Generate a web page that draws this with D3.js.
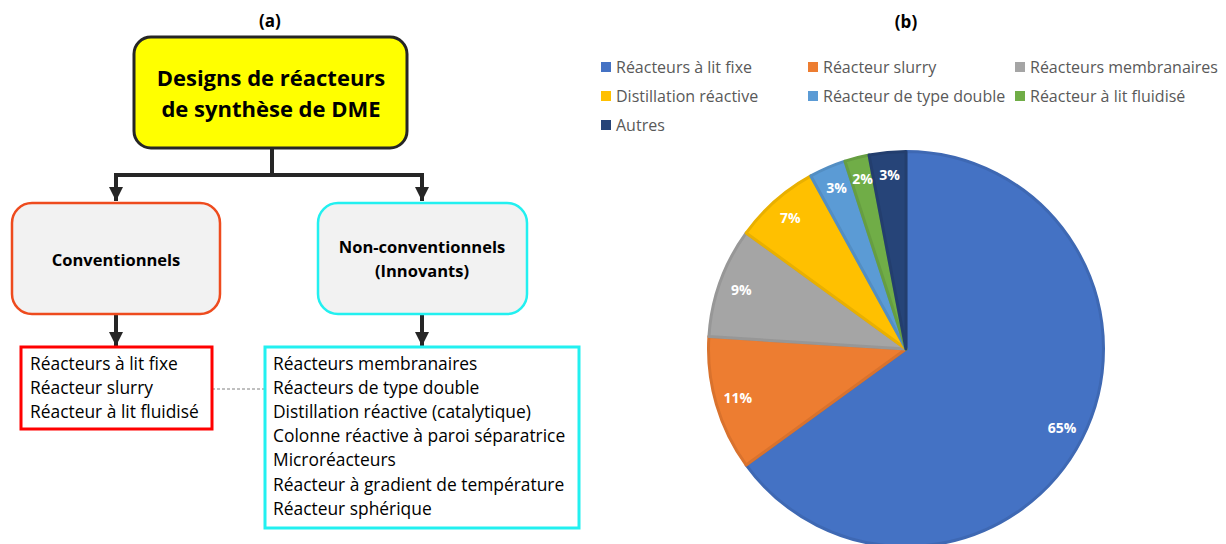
<!DOCTYPE html>
<html>
<head>
<meta charset="utf-8">
<script src="https://cdn.jsdelivr.net/npm/d3@7"></script>
<style>
  html, body { margin: 0; padding: 0; background: #fff; }
  svg { display: block; }
  text { font-variant-ligatures: none; }
</style>
</head>
<body>
<svg id="chart" width="1226" height="544"></svg>
<script>
// ---- (a) classification diagram content ----
const rootTitle = ["Designs de réacteurs", "de synthèse de DME"];
const branchTitles = [["Conventionnels"], ["Non-conventionnels", "(Innovants)"]];
const conventionalList = ["Réacteurs à lit fixe", "Réacteur slurry", "Réacteur à lit fluidisé"];
const innovativeList = [
  "Réacteurs membranaires",
  "Réacteurs de type double",
  "Distillation réactive (catalytique)",
  "Colonne réactive à paroi séparatrice",
  "Microréacteurs",
  "Réacteur à gradient de température",
  "Réacteur sphérique"
];

// ---- (b) share of reactor designs ----
const categories = [
  "Réacteurs à lit fixe",
  "Réacteur slurry",
  "Réacteurs membranaires",
  "Distillation réactive",
  "Réacteur de type double",
  "Réacteur à lit fluidisé",
  "Autres"
];
const shares = [65, 11, 9, 7, 3, 2, 3];
const sliceColors = ["#4472C4", "#ED7D31", "#A5A5A5", "#FFC000", "#5B9BD5", "#70AD47", "#264478"];

const svg = d3.select("#chart");
const FONT = "'Open Sans', Lato, sans-serif";
const INK = "#262626";

// arrowhead marker
svg.append("defs").append("marker")
  .attr("id", "arrow")
  .attr("viewBox", "0 0 10 10")
  .attr("refX", 10).attr("refY", 5)
  .attr("markerUnits", "userSpaceOnUse")
  .attr("markerWidth", 14).attr("markerHeight", 15)
  .attr("orient", "auto")
  .append("path").attr("d", "M0,0 L10,5 L0,10 Z").attr("fill", INK);

const diag = svg.append("g");

// panel titles
svg.append("text").attr("x", 270).attr("y", 27).attr("text-anchor", "middle")
  .attr("font-family", FONT).attr("font-weight", 700).attr("font-size", 17).attr("fill", "#000").text("(a)");
svg.append("text").attr("x", 906).attr("y", 28).attr("text-anchor", "middle")
  .attr("font-family", FONT).attr("font-weight", 700).attr("font-size", 17).attr("fill", "#000").text("(b)");

// connectors
const conn = diag.append("g").attr("stroke", INK).attr("stroke-width", 4).attr("fill", "none");
conn.append("path").attr("d", "M272,148 V175 M114,175 H424");
conn.append("line").attr("x1", 116).attr("y1", 175).attr("x2", 116).attr("y2", 201).attr("marker-end", "url(#arrow)");
conn.append("line").attr("x1", 422).attr("y1", 175).attr("x2", 422).attr("y2", 201).attr("marker-end", "url(#arrow)");
conn.append("line").attr("x1", 116).attr("y1", 314).attr("x2", 116).attr("y2", 346).attr("marker-end", "url(#arrow)");
conn.append("line").attr("x1", 422).attr("y1", 314).attr("x2", 422).attr("y2", 346).attr("marker-end", "url(#arrow)");

// dashed link between the two lists
diag.append("line").attr("x1", 212).attr("y1", 389).attr("x2", 265).attr("y2", 389)
  .attr("stroke", "#808080").attr("stroke-width", 1).attr("stroke-dasharray", "3,2");

// root node
diag.append("rect").attr("x", 134).attr("y", 37).attr("width", 273).attr("height", 111)
  .attr("rx", 17).attr("fill", "#FFFF00").attr("stroke", INK).attr("stroke-width", 3);
diag.append("text").attr("font-family", FONT).attr("font-weight", 700).attr("font-size", 22)
  .attr("text-anchor", "middle").attr("fill", "#000")
  .selectAll("tspan").data(rootTitle).join("tspan")
  .attr("x", 271).attr("y", (d, i) => 86 + i * 31).text(d => d);

// branch nodes
const branchBoxes = [
  { x: 12, y: 203, w: 208, h: 111, stroke: "#EE4B1E", cx: 116, y0: 266 },
  { x: 318, y: 203, w: 209, h: 111, stroke: "#22F0F0", cx: 422, y0: 253 }
];
branchBoxes.forEach((b, i) => {
  diag.append("rect").attr("x", b.x).attr("y", b.y).attr("width", b.w).attr("height", b.h)
    .attr("rx", 20).attr("fill", "#F2F2F2").attr("stroke", b.stroke).attr("stroke-width", 2.5);
  diag.append("text").attr("font-family", FONT).attr("font-weight", 700).attr("font-size", 16.5)
    .attr("text-anchor", "middle").attr("fill", "#000")
    .selectAll("tspan").data(branchTitles[i]).join("tspan")
    .attr("x", b.cx).attr("y", (d, j) => b.y0 + j * 24).text(d => d);
});

// list boxes
const lists = [
  { x: 21, y: 347, w: 191, h: 82, stroke: "#FF0000", items: conventionalList, tx: 30 },
  { x: 265, y: 347, w: 314, h: 181, stroke: "#22F0F0", items: innovativeList, tx: 273 }
];
lists.forEach(l => {
  diag.append("rect").attr("x", l.x).attr("y", l.y).attr("width", l.w).attr("height", l.h)
    .attr("fill", "#fff").attr("stroke", l.stroke).attr("stroke-width", 3);
  diag.append("text").attr("font-family", FONT).attr("font-size", 17.4).attr("fill", "#000")
    .selectAll("tspan").data(l.items).join("tspan")
    .attr("x", l.tx).attr("y", (d, i) => 370 + i * 24.1).text(d => d);
});

// ---- (b) pie ----
const cx = 906, cy = 349, R = 199;
const pie = d3.pie().sort(null).value(d => d.v);
const data = pie(categories.map((c, i) => ({ c, v: shares[i], col: sliceColors[i] })));
const arc = d3.arc().innerRadius(0).outerRadius(R - 1.5);
const labelArc = d3.arc().innerRadius(R * 0.88).outerRadius(R * 0.88);

const pg = svg.append("g").attr("transform", `translate(${cx},${cy})`);
pg.selectAll("path").data(data).join("path")
  .attr("d", arc)
  .attr("fill", d => d.data.col)
  .attr("stroke", d => d3.color(d.data.col).darker(0.25))
  .attr("stroke-width", 3)
  .attr("stroke-linejoin", "round");

pg.selectAll("text").data(data).join("text")
  .attr("transform", d => `translate(${labelArc.centroid(d)})`)
  .attr("text-anchor", "middle").attr("dy", "0.35em")
  .attr("font-family", FONT).attr("font-weight", 700).attr("font-size", 14)
  .attr("fill", "#fff")
  .text(d => d.data.v + "%");

// legend
const legendCols = [601, 808, 1015];
const lg = svg.append("g");
const items = lg.selectAll("g").data(categories).join("g")
  .attr("transform", (d, i) => `translate(${legendCols[i % 3]},${67 + Math.floor(i / 3) * 29})`);
items.append("rect").attr("x", 0).attr("y", -5).attr("width", 10).attr("height", 10)
  .attr("fill", (d, i) => sliceColors[i]);
items.append("text").attr("x", 15).attr("y", 0).attr("dy", "0.36em")
  .attr("font-family", FONT).attr("font-size", 16).attr("fill", "#595959")
  .text(d => d);
</script>
</body>
</html>
